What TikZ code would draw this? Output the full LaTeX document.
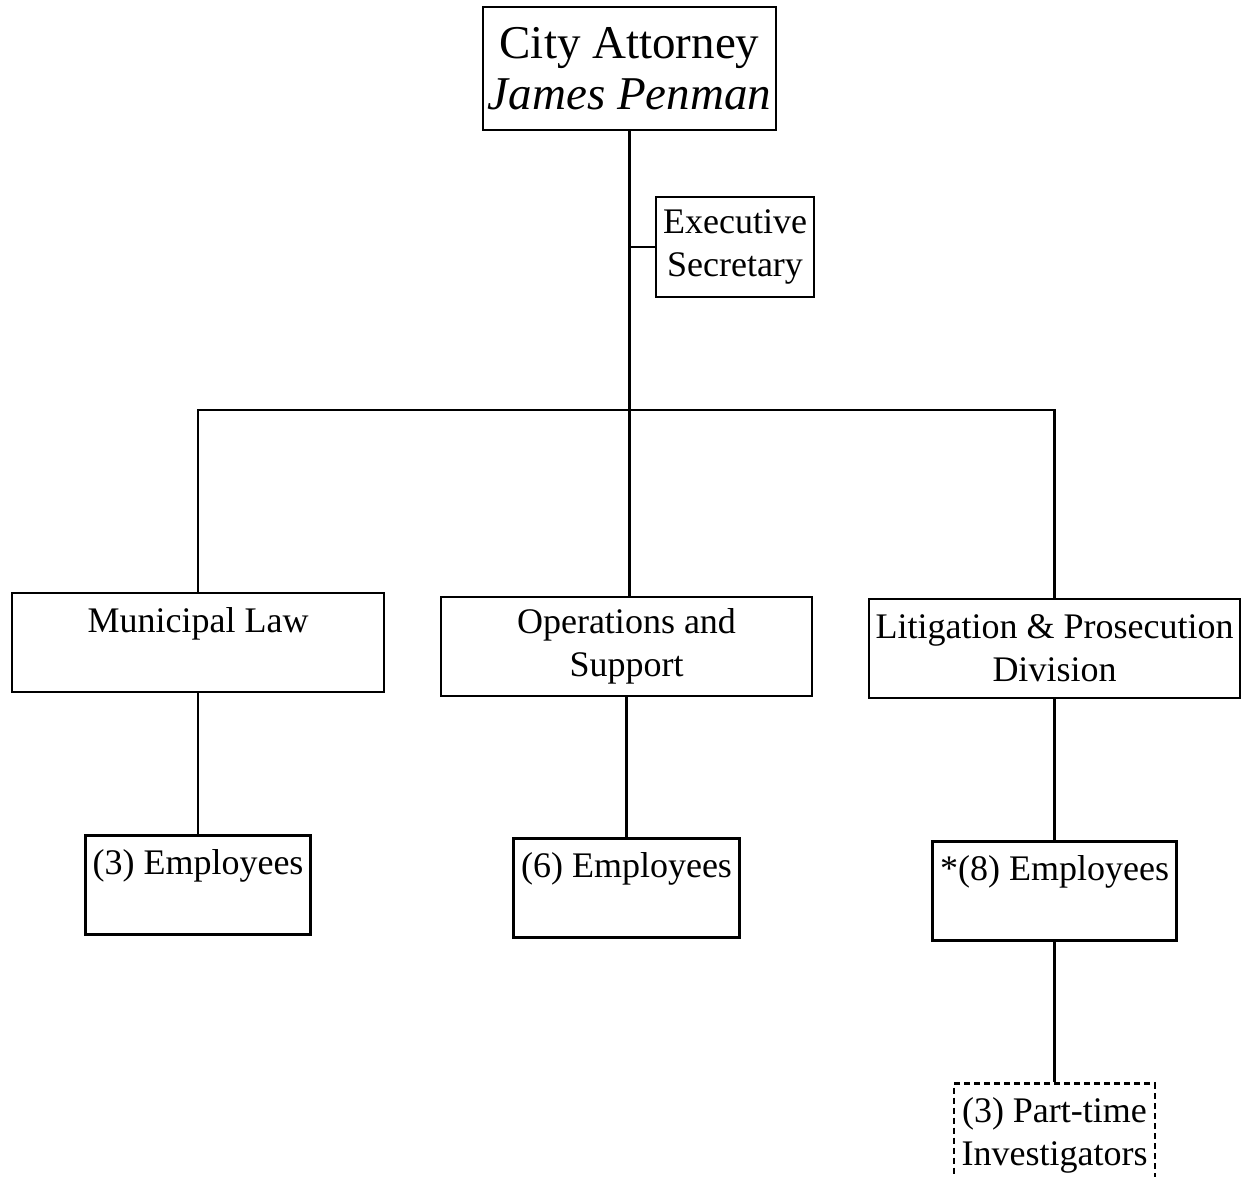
\documentclass[tikz,border=0pt]{standalone}
\usepackage{fontspec}
\setmainfont{Liberation Serif}
\usepackage{tikz}
\usetikzlibrary{positioning}

\tikzset{
  box/.style={draw, rectangle, inner sep=0pt, align=center},
  onetop/.style={text height=19.5pt, text depth=30pt},
}

\begin{document}
\begin{tikzpicture}[x=0.5pt,y=-0.5pt,line width=1.4pt,node distance=70pt,
  font=\fontsize{18}{21.5}\selectfont]
\useasboundingbox (0,0) rectangle (1242,1177);

\node[box,minimum width=146.5pt,minimum height=61.5pt,
  font=\fontsize{23.5}{25.5}\selectfont] (CA) at (629.5,68.5)
  {City Attorney\\\textit{James Penman}};
\node[box,minimum width=79pt,minimum height=50pt] (ES) at (735,247)
  {Executive\\Secretary};

\node[box,onetop,minimum width=186pt]   (ML) at (198,642.5)   {Municipal Law};
\node[box,minimum width=185.5pt,minimum height=49.5pt] (OS) at (626.5,646.5) {Operations and\\Support};
\node[box,minimum width=185.5pt,minimum height=49.5pt] (LP) at (1054.5,648.5) {Litigation \& Prosecution\\Division};

\node[box,onetop,minimum width=112.5pt] (E3) [below=70.5pt of ML] {(3) Employees};
\node[box,onetop,minimum width=113pt]   (E6) [below=70pt of OS]   {(6) Employees};
\node[box,onetop,minimum width=122pt]   (E8) [below=70.5pt of LP] {*(8) Employees};
\node[box,dash pattern=on 3pt off 2pt,minimum width=100.5pt,minimum height=52pt]
  (PT) [below=70pt of E8] {(3) Part-time\\Investigators};

\coordinate (bus) at (628,410);

\draw (CA.south) -- (CA.south |- OS.north);
\draw (ES.west) -- (ES.west -| CA.south);
\draw (ML.north) |- (bus) -| (LP.north);
\draw (ML.south) -- (E3.north);
\draw (OS.south) -- (E6.north);
\draw (LP.south) -- (E8.north);
\draw (E8.south) -- (PT.north);

\end{tikzpicture}
\end{document}
